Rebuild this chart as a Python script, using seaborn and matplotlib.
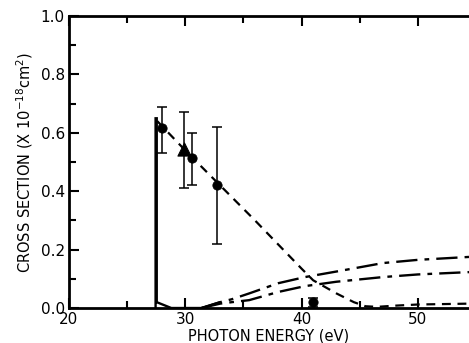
import numpy as np
import pandas as pd
import matplotlib
matplotlib.use("Agg")
import matplotlib.pyplot as plt
import seaborn as sns
from matplotlib.ticker import MultipleLocator

# ---- data ----
circle_x = [28.0, 30.6, 32.7, 41.0]
circle_y = [0.615, 0.515, 0.42, 0.02]
circle_lo = [0.53, 0.42, 0.22, 0.005]
circle_hi = [0.69, 0.60, 0.62, 0.035]

tri_x = [29.9]
tri_y = [0.545]
tri_lo = [0.41]
tri_hi = [0.67]

solid_x = [27.45, 27.45, 27.55, 27.55, 28.8, 31.4, 33.0]
solid_y = [0.0, 0.65, 0.65, 0.02, 0.0, 0.0, 0.02]

dashed_x = [27.6, 30.0, 33.0, 36.0, 40.0, 41.0, 43.0, 44.5, 45.5, 46.5, 48.0, 50.0, 54.4]
dashed_y = [0.64, 0.54, 0.42, 0.30, 0.135, 0.095, 0.05, 0.02, 0.006, 0.004, 0.008, 0.012, 0.015]

upper_x = [31.4, 33.0, 34.0, 35.5, 38.0, 40.3, 43.0, 47.0, 50.0, 54.4]
upper_y = [0.0, 0.02, 0.03, 0.05, 0.085, 0.106, 0.125, 0.154, 0.165, 0.175]

lower_x = [31.4, 33.0, 34.0, 35.5, 38.0, 40.3, 43.0, 47.0, 50.0, 54.4]
lower_y = [0.0, 0.015, 0.02, 0.027, 0.055, 0.075, 0.09, 0.106, 0.115, 0.123]

x_ticks = [20, 30, 40, 50]
y_ticks = [0.0, 0.2, 0.4, 0.6, 0.8, 1.0]

sns.set_style("ticks")
plt.rcParams['font.family'] = ['DejaVu Sans']
plt.rcParams['text.color'] = 'black'
plt.rcParams['axes.labelcolor'] = 'black'
plt.rcParams['xtick.color'] = 'black'
plt.rcParams['ytick.color'] = 'black'

fig = plt.figure(figsize=(4.69, 3.43), dpi=100)
ax = fig.add_axes([0.147, 0.102, 0.853, 0.851])

ax.plot(solid_x, solid_y, color='black', lw=1.7, solid_joinstyle='miter')
sns.lineplot(x=dashed_x, y=dashed_y, ax=ax, color='black', lw=1.6,
             linestyle=(0, (4, 3)), sort=False)
sns.lineplot(x=upper_x, y=upper_y, ax=ax, color='black', lw=1.7,
             linestyle=(0, (9, 3, 2, 3)), sort=False)
sns.lineplot(x=lower_x, y=lower_y, ax=ax, color='black', lw=1.7,
             linestyle=(0, (9, 3, 2, 3)), sort=False)

cy = np.array(circle_y)
ax.errorbar(circle_x, circle_y,
            yerr=[cy - np.array(circle_lo), np.array(circle_hi) - cy],
            fmt='none', ecolor='black', elinewidth=1.1, capsize=3.5, capthick=1.1)
ty = np.array(tri_y)
ax.errorbar(tri_x, tri_y,
            yerr=[ty - np.array(tri_lo), np.array(tri_hi) - ty],
            fmt='none', ecolor='black', elinewidth=1.1, capsize=3.5, capthick=1.1)
sns.scatterplot(x=circle_x, y=circle_y, ax=ax, marker='o', s=45,
                color='black', edgecolor='black', zorder=5)
sns.scatterplot(x=tri_x, y=tri_y, ax=ax, marker='^', s=90,
                color='black', edgecolor='black', zorder=5)

ax.set_xlim(20, 54.4)
ax.set_ylim(0, 1.0)
ax.set_xticks(x_ticks)
ax.set_yticks(y_ticks)
ax.set_yticklabels([f"{v:.1f}" for v in y_ticks])
ax.xaxis.set_minor_locator(MultipleLocator(5))
ax.yaxis.set_minor_locator(MultipleLocator(0.1))
ax.tick_params(which='both', direction='in', top=True, right=False,
               labelsize=11, width=1.5, color='black', labelcolor='black', pad=3)
ax.tick_params(which='major', length=7)
ax.tick_params(which='minor', length=5)
for side in ['left', 'bottom', 'top']:
    ax.spines[side].set_linewidth(2)
    ax.spines[side].set_color('black')
ax.spines['right'].set_visible(False)

ax.set_xlabel("PHOTON ENERGY (eV)", fontsize=10.5, labelpad=1, color='black')
ax.set_ylabel(r"CROSS SECTION (X 10$^{-18}$cm$^{2}$)", fontsize=10.5, labelpad=4,
              color='black')

fig.savefig("out.png", dpi=100)
